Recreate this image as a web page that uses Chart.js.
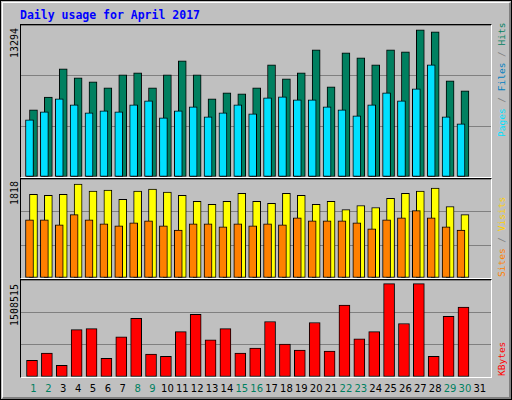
<!DOCTYPE html>
<html><head><meta charset="utf-8">
<script src="https://cdn.jsdelivr.net/npm/chart.js@4/dist/chart.umd.min.js"></script>
<style>
html,body{margin:0;padding:0;background:#fff}
#frame{position:absolute;left:0;top:0;width:510px;height:398px;border:1px solid #000;background:#C0C0C0}
#bevel{position:absolute;left:1px;top:1px;width:506px;height:394px;border-top:1px solid #fff;border-left:1px solid #fff;border-right:2px solid #808080;border-bottom:2px solid #808080}
.panel{position:absolute;left:20px;width:470px;border-top:1px solid #000;border-left:1px solid #000;border-right:1px solid #fff;border-bottom:1px solid #fff}
canvas{position:absolute;left:0;top:0}
.t{position:absolute;font-family:"DejaVu Sans Mono",monospace;font-size:11.5px;white-space:nowrap}
.rot{position:absolute;transform-origin:0 0;transform:rotate(-90deg);font-family:"DejaVu Sans Mono",monospace;font-size:9.5px;white-space:nowrap}
.xl{position:absolute;top:383px;font-family:"DejaVu Sans",sans-serif;font-size:10px;transform:translateX(-50%)}
</style></head><body>
<div id="frame"><div id="bevel"></div></div>
<div class="t" style="left:20px;top:8px;color:#0000FF;font-weight:bold">Daily usage for April 2017</div>
<div class="panel" style="top:24px;height:152px"><canvas id="c1" width="470" height="152"></canvas></div>
<div class="panel" style="top:178px;height:99px"><canvas id="c2" width="470" height="99"></canvas></div>
<div class="panel" style="top:279px;height:97px"><canvas id="c3" width="470" height="97"></canvas></div>
<div class="rot" style="left:9px;top:58px;font-size:10px">13294</div>
<div class="rot" style="left:9px;top:205px;font-size:10px">1818</div>
<div class="rot" style="left:9px;top:326px;font-size:10px">1508515</div>
<div class="rot" style="left:496px;top:137px"><span style="color:#00E0FF">Pages</span><span style="color:#808080"> / </span><span style="color:#0080C0">Files</span><span style="color:#808080"> / </span><span style="color:#008060">Hits</span></div>
<div class="rot" style="left:496px;top:277px"><span style="color:#FF8000">Sites</span><span style="color:#808080"> / </span><span style="color:#FFD000">Visits</span></div>
<div class="rot" style="left:496px;top:376px"><span style="color:#FF0000">KBytes</span></div>
<div id="xlabels"></div>
<script>
const days=[1,2,3,4,5,6,7,8,9,10,11,12,13,14,15,16,17,18,19,20,21,22,23,24,25,26,27,28,29,30,31];
const weekend=[1,2,8,9,15,16,22,23,29,30];
const hits=[6076,7219,9776,8964,8603,8061,9235,9415,8061,9235,10498,9235,7069,7610,7520,8061,10137,8874,9415,11491,8152,11220,10769,10137,11491,11310,13294,13115,8693,7791,0];
const files=[5174,5896,7069,6527,5805,5986,5896,6527,6888,5354,5986,6347,5444,5805,6527,5715,7159,7249,6979,6979,6347,6076,5535,6527,7610,6888,7971,10137,5444,4813,0];
const pages=[1745,2467,1203,2918,2647,1654,2286,3369,1745,1384,3188,3279,2106,2828,2106,2196,4001,2828,2557,4001,3008,4993,3730,3730,6347,4362,6708,3640,3098,4271,0];
const visits=[1620,1601,1620,1818,1680,1699,1522,1680,1719,1660,1601,1482,1423,1482,1640,1482,1443,1640,1601,1423,1482,1324,1403,1364,1541,1640,1680,1739,1383,1225,0];
const sites=[1126,1126,1028,1225,1126,1047,1008,1067,1107,1008,929,1047,1047,988,1047,1008,1047,1028,1166,1107,1107,1107,1067,949,1126,1166,1304,1166,988,929,0];
const kbytes=[269770,385385,187187,765265,781781,302802,649649,946946,368868,335835,732232,1013012,600100,781781,385385,467968,897397,534034,434935,880880,418418,1161661,616616,732232,1508515,864364,1508515,335835,979979,1128628,0];

const XMIN=0.16, XMAX=31.75, SH=0.27;
function pts(a){return days.map((d,i)=>({x:d,y:a[i]}));}
function ds(a,col,w,axis){return {data:pts(a),backgroundColor:col,borderColor:'#000',borderWidth:1,barThickness:w,xAxisID:axis,borderSkipped:false};}
function mk(id,sets,ymax,shiftB){
  return new Chart(document.getElementById(id),{type:'bar',data:{datasets:sets},
  options:{responsive:false,animation:false,devicePixelRatio:1,layout:{padding:0},
   plugins:{legend:{display:false},tooltip:{enabled:false}},
   scales:{
    xa:{type:'linear',display:false,offset:false,bounds:'ticks',min:XMIN+SH,max:XMAX+SH},
    xb:{type:'linear',display:false,offset:false,bounds:'ticks',min:XMIN+(shiftB||0),max:XMAX+(shiftB||0)},
    y:{min:0,max:ymax,display:true,border:{display:false},
       grid:{color:'#808080',lineWidth:1,drawTicks:false},
       ticks:{display:false},
       afterBuildTicks:s=>{s.ticks=[{value:0},{value:ymax/3},{value:2*ymax/3},{value:ymax}];}}
   }}});
}
mk('c1',[ds(files,'#00E0FF',8,'xb'),ds(pages,'#0040FF',3,'xa'),ds(hits,'#008060',8,'xa')],13730);
mk('c2',[ds(sites,'#FF8000',8,'xb'),ds(visits,'#FFFF00',8,'xa')],1915);
const c3=mk('c3',[ds(kbytes,'#FF0000',11,'xb')],1568000,0.1);
const sx=c3.scales.xb, box=document.getElementById('xlabels');
days.forEach(d=>{const e=document.createElement('div');e.className='xl';e.textContent=d;
 e.style.left=(21+sx.getPixelForValue(d+0.1))+'px';e.style.color=weekend.includes(d)?'#008060':'#000';box.appendChild(e);});
</script></body></html>
